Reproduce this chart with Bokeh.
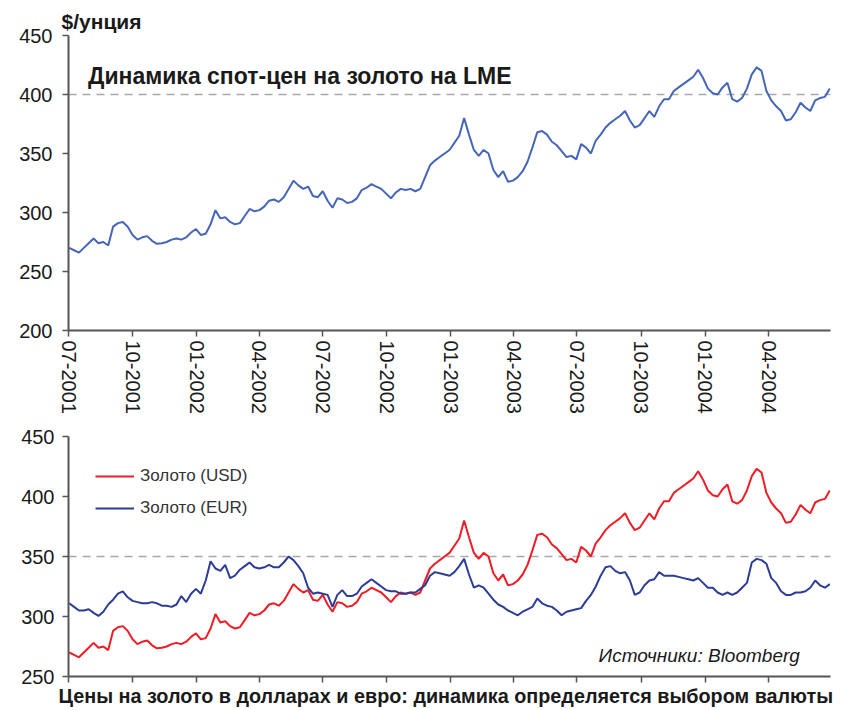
import pandas as pd
from bokeh.plotting import figure
from bokeh.layouts import column
from bokeh.models import (FixedTicker, DatetimeTickFormatter, Label, Legend,
                          LegendItem, Range1d)
from bokeh.embed import file_html
from bokeh.resources import INLINE

# ---------------- data (weekly readings) ----------------
dates = pd.date_range("2001-07-02", periods=157, freq="7D")

usd = [270, 268, 266, 270, 274, 278, 274, 275, 272, 288,
       291, 292, 288, 281, 277, 279, 280, 276, 273.5, 274,
       275, 277, 278, 277, 279, 283, 286, 281, 282, 290,
       302, 295, 296, 292, 290, 291, 297, 303, 301, 302,
       305, 310, 311, 309, 313, 320, 327, 323, 320, 322,
       314, 313, 318, 310, 304, 312, 311, 308, 309, 312,
       319, 321, 324, 322, 320, 316, 312, 317, 320, 319,
       320, 318, 320, 330, 340, 344, 347, 350, 353, 359,
       365, 380, 366, 353, 348, 353, 350, 336, 330, 335,
       326, 327, 330, 335, 343, 355, 368, 369, 366, 360,
       357, 352, 347, 348, 345, 358, 355, 350, 361, 366,
       372, 376, 379, 382, 386, 378, 372, 374, 380, 386,
       381, 390, 396, 396, 403, 406, 409, 412, 415, 421,
       414, 405, 401, 400, 406, 410, 396, 394, 397, 405,
       417, 423, 420, 403, 395, 390, 386, 378, 379, 385,
       393, 389, 386, 395, 397, 398, 405]

eur = [311, 308, 305, 305, 306, 303, 300.5, 304, 310, 314,
       319, 321, 316, 313, 312, 311, 311, 312, 311, 309,
       309, 308, 310, 317, 312, 319, 323, 319, 330, 346,
       340, 338, 343, 332, 334, 339, 342, 345, 341, 340,
       341, 343, 341, 341, 345, 350, 347, 342, 336, 324,
       319, 320, 319, 318, 308, 318, 322, 317, 317, 319,
       325, 328, 331, 328, 325, 322, 321, 321, 319, 319,
       320, 320, 323, 326, 334, 337, 336, 335, 334, 337,
       342, 348, 335, 324, 326, 324, 319, 314, 310, 308,
       305, 303, 301, 304, 306, 308, 315, 311, 309, 308,
       305, 301, 304, 305, 306, 307, 313, 318, 325, 334,
       341, 342, 338, 336, 337, 330, 318, 320, 326, 330,
       331, 337, 334, 334, 334, 333, 332, 331, 330, 332,
       328, 324, 324, 320, 318, 320, 318, 320, 324, 328,
       345, 348, 347, 344, 332, 328, 321, 318, 318, 320,
       320, 321, 324, 330, 326, 324, 327]

tick_dates = ["2001-07-01", "2001-10-01", "2002-01-01", "2002-04-01",
              "2002-07-01", "2002-10-01", "2003-01-01", "2003-04-01",
              "2003-07-01", "2003-10-01", "2004-01-01", "2004-04-01"]
tick_labels = ["07-2001", "10-2001", "01-2002", "04-2002", "07-2002", "10-2002",
               "01-2003", "04-2003", "07-2003", "10-2003", "01-2004", "04-2004"]
top_yticks = [200, 250, 300, 350, 400, 450]
top_grid = [400, 450]
bottom_yticks = [250, 300, 350, 400, 450]
bottom_grid = [350]

top_unit = "$/унция"
top_title = "Динамика спот-цен на золото на LME"
caption = "Цены на золото в долларах и евро: динамика определяется выбором валюты"
source = "Источники: Bloomberg"
legend_labels = ["Золото (USD)", "Золото (EUR)"]

# ---------------- styles ----------------
FONT = "Liberation Sans"
TOP_BLUE = "#4565BA"
RED = "#EE1C25"
NAVY = "#2D3C96"
AXIS = "#555555"
GRID = "#A8A8A8"
TEXT = "#1a1a1a"


def ms(d):
    return pd.Timestamp(d).value / 1e6


tick_ms = [ms(d) for d in tick_dates]
x_start, x_end = ms("2001-07-01"), ms("2004-06-29")


def style_axes(p, yticks, grid_vals, show_xlabels, ystandoff):
    p.outline_line_color = None
    p.background_fill_color = "white"
    p.xgrid.visible = False
    p.ygrid.ticker = FixedTicker(ticks=grid_vals)
    p.ygrid.grid_line_color = GRID
    p.ygrid.grid_line_dash = "8 6"
    p.ygrid.grid_line_width = 1.5

    ya = p.yaxis[0]
    ya.ticker = FixedTicker(ticks=yticks)
    ya.axis_line_color = AXIS
    ya.axis_line_width = 2
    ya.major_tick_line_color = AXIS
    ya.major_tick_line_width = 1.5
    ya.major_tick_out = 6
    ya.major_tick_in = 0
    ya.minor_tick_line_color = None
    ya.major_label_text_font = FONT
    ya.major_label_text_font_size = "20px"
    ya.major_label_text_color = TEXT
    ya.major_label_standoff = ystandoff

    xa = p.xaxis[0]
    xa.ticker = FixedTicker(ticks=tick_ms)
    xa.formatter = DatetimeTickFormatter(days="%m-%Y", months="%m-%Y", years="%m-%Y")
    xa.major_label_overrides = {t: l for t, l in zip(tick_ms, tick_labels)}
    xa.axis_line_color = AXIS
    xa.axis_line_width = 2
    xa.major_tick_line_color = AXIS
    xa.major_tick_line_width = 1.5
    xa.major_tick_out = 6
    xa.major_tick_in = 0
    xa.minor_tick_line_color = None
    if show_xlabels:
        xa.major_label_orientation = "vertical"
        xa.major_label_text_font = FONT
        xa.major_label_text_font_size = "20px"
        xa.major_label_text_color = TEXT
        xa.major_label_standoff = 4
    else:
        xa.major_label_text_font_size = "1px"
        xa.major_label_text_color = None
        xa.major_label_standoff = 0


# ---------------- top panel ----------------
p1 = figure(width=838, height=420, x_axis_type="datetime",
            x_range=Range1d(x_start, x_end), y_range=Range1d(200, 450),
            output_backend="svg", toolbar_location=None,
            min_border_left=68, min_border_right=0, min_border_top=35,
            min_border_bottom=90)
style_axes(p1, top_yticks, top_grid, True, 10)
p1.title.text = top_unit
p1.title.align = "left"
p1.title.offset = -7
p1.title.standoff = 6
p1.title.text_font = FONT
p1.title.text_font_size = "21px"
p1.title.text_font_style = "bold"
p1.title.text_color = TEXT

p1.line(dates, usd, line_color=TOP_BLUE, line_width=2)

p1.add_layout(Label(x=ms("2001-07-29"), y=416, text=top_title,
                    text_font=FONT, text_font_size="23px", text_font_style="bold",
                    text_color=TEXT, text_baseline="middle", text_align="left"))

# ---------------- bottom panel ----------------
p2 = figure(width=838, height=290, x_axis_type="datetime",
            x_range=Range1d(x_start, x_end), y_range=Range1d(250, 450),
            output_backend="svg", toolbar_location=None,
            min_border_left=64, min_border_right=8, min_border_top=16,
            min_border_bottom=34, title_location="below")
style_axes(p2, bottom_yticks, bottom_grid, False, 8)
p2.title.text = caption
p2.title.align = "left"
p2.title.offset = -10
p2.title.standoff = 1
p2.title.text_font = FONT
p2.title.text_font_size = "19.8px"
p2.title.text_font_style = "bold"
p2.title.text_color = TEXT

r_usd = p2.line(dates, usd, line_color=RED, line_width=2)
r_eur = p2.line(dates, eur, line_color=NAVY, line_width=2)

legend = Legend(items=[LegendItem(label=legend_labels[0], renderers=[r_usd]),
                       LegendItem(label=legend_labels[1], renderers=[r_eur])],
                location=(27, 154), padding=0, margin=0, spacing=4,
                glyph_width=39, glyph_height=28, label_height=28,
                label_standoff=6, label_text_font=FONT,
                label_text_font_size="17px", label_text_color="#333333",
                border_line_color=None, background_fill_alpha=0)
p2.add_layout(legend)

p2.add_layout(Label(x=ms("2004-05-16"), y=267.5, text=source,
                    text_font=FONT, text_font_size="19px", text_font_style="italic",
                    text_color=TEXT, text_baseline="middle", text_align="right"))

layout = column(p1, p2, spacing=0)
open("out.html", "w").write(file_html(layout, INLINE))
